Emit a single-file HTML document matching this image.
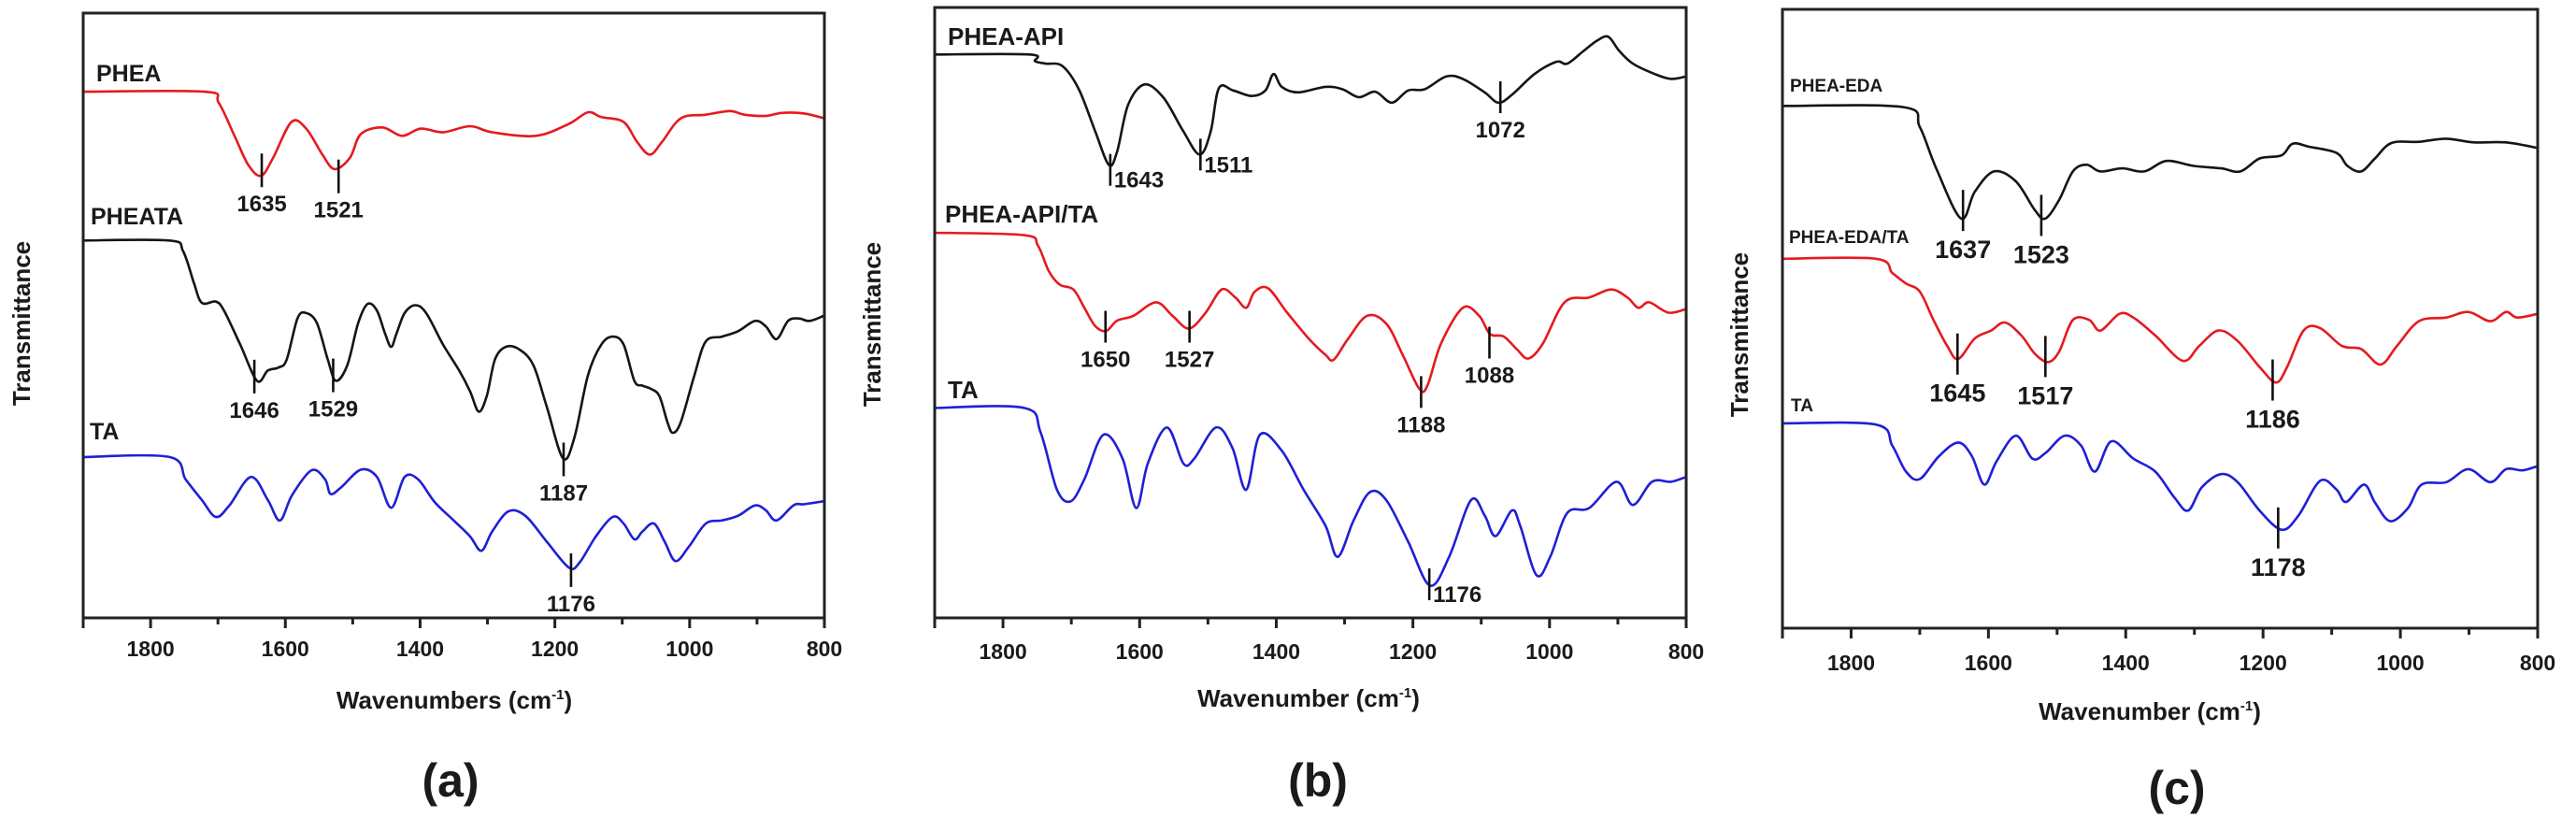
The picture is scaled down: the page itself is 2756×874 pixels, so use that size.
<!DOCTYPE html>
<html><head><meta charset="utf-8">
<style>
html,body{margin:0;padding:0;background:#fff;}
svg{display:block;}
text{font-family:"Liberation Sans",Arial,sans-serif;font-weight:bold;fill:#1a1a1a;}
</style></head>
<body>
<svg id="fig" width="2756" height="874" viewBox="0 0 2756 874" xmlns="http://www.w3.org/2000/svg"></svg>
<script>
// ---------- DATA ----------
// Panel (a)
const aPheaWn  = [1900,1720,1699,1675,1655,1636,1618,1591,1569,1545,1527,1504,1488,1456,1427,1399,1366,1326,1293,1228,1179,1151,1131,1098,1078,1059,1041,1013,976,940,919,887,863,830,800];
const aPheaVal = [87.0,87.0,85.2,79.6,74.9,73.1,76.1,82.0,80.9,76.6,74.2,76.1,80.0,81.1,79.7,80.9,80.3,81.3,80.3,79.7,81.7,83.6,82.8,82.0,78.7,76.6,78.7,82.6,83.2,83.8,83.2,83.0,83.5,83.4,82.6];
const aPheataWn  = [1900,1772,1752,1736,1724,1703,1691,1667,1642,1626,1610,1598,1582,1569,1553,1537,1525,1508,1492,1478,1464,1452,1443,1435,1423,1407,1391,1366,1342,1326,1313,1301,1289,1273,1253,1232,1212,1188,1171,1151,1131,1114,1098,1082,1070,1058,1045,1033,1025,1013,993,976,952,928,903,887,871,854,838,822,800];
const aPheataVal = [62.4,62.4,60.7,55.5,52.1,52.3,50.8,45.2,39.2,40.9,41.4,42.7,49.5,50.4,48.7,42.7,39.2,41.8,48.7,51.9,50.8,47.0,44.8,47.0,50.4,51.7,50.4,45.2,40.9,37.5,34.1,36.7,42.7,44.8,44.4,41.8,34.9,26.4,29.8,40.1,45.2,46.5,45.2,39.2,38.4,37.9,36.7,32.4,30.6,32.4,40.1,45.7,46.5,47.4,49.1,48.2,46.1,49.1,49.5,49.1,50.0];
const aTaWn  = [1900,1772,1748,1724,1703,1683,1651,1626,1608,1590,1561,1541,1533,1517,1488,1464,1443,1423,1403,1378,1350,1326,1309,1293,1269,1244,1212,1179,1163,1139,1114,1098,1082,1070,1053,1037,1021,1001,976,952,928,903,887,871,846,830,800];
const aTaVal = [26.6,26.6,22.9,19.5,16.7,18.6,23.3,19.5,16.1,20.3,24.4,22.9,20.5,21.6,24.5,23.3,18.2,23.3,22.9,19.1,16.1,13.5,11.1,14.3,17.6,16.9,12.6,8.3,9.2,13.5,16.7,15.6,13.0,14.3,15.6,12.6,9.4,11.8,15.6,16.1,16.9,18.6,17.8,16.1,18.6,18.8,19.3];
const aAnnWn  = [1635,1521,1646,1529,1187,1176];
const aAnnVal = [74.0,73.0,39.9,40.1,26.2,7.9];
const aAnnTxt = ["1635","1521","1646","1529","1187","1176"];

// Panel (b)
const bApiWn  = [1900,1761,1753,1737,1713,1689,1665,1645,1633,1617,1593,1565,1536,1512,1496,1484,1463,1436,1416,1404,1392,1368,1328,1303,1279,1255,1231,1207,1183,1151,1127,1095,1075,1055,1022,990,974,950,930,914,898,878,846,822,800];
const bApiVal = [92.3,92.3,91.2,90.8,90.4,86.6,79.7,74.2,76.4,84.0,87.4,85.2,79.7,75.9,79.7,86.8,86.4,85.5,86.4,89.1,87.0,86.1,87.0,86.6,85.3,86.2,84.4,86.4,86.6,88.7,88.3,86.1,84.4,85.7,89.1,91.1,90.8,92.9,94.6,95.2,92.9,90.8,89.1,88.3,88.7];
const bApiTaWn  = [1900,1769,1749,1733,1717,1697,1681,1665,1649,1633,1609,1576,1552,1528,1504,1480,1460,1444,1432,1412,1384,1352,1328,1316,1295,1267,1239,1215,1191,1179,1159,1127,1103,1087,1067,1047,1031,1010,978,942,910,886,870,854,826,800];
const bApiTaVal = [63.1,62.7,61.0,56.8,54.6,53.8,50.8,47.8,47.0,48.7,49.5,51.7,49.5,47.4,49.9,53.8,52.5,50.8,53.4,54.0,50.0,45.7,43.1,42.3,45.7,49.5,48.2,43.1,37.6,38.0,44.9,50.8,49.5,46.5,46.1,43.9,42.5,44.9,51.7,52.5,53.8,52.5,50.8,51.7,50.0,50.6];
const bTaWn  = [1900,1769,1745,1721,1701,1681,1653,1625,1605,1588,1560,1536,1520,1488,1464,1444,1424,1392,1360,1328,1310,1287,1263,1239,1207,1175,1147,1115,1095,1079,1055,1043,1019,999,974,942,902,878,850,822,800];
const bTaVal = [34.4,34.4,30.4,21.0,19.1,22.7,30.0,26.1,18.0,25.3,31.2,25.3,26.1,31.2,27.8,21.0,30.0,27.4,21.0,15.1,10.0,15.9,20.6,19.3,12.5,5.3,10.0,19.3,16.8,13.4,17.6,15.1,7.0,10.0,17.2,18.0,22.3,18.5,22.3,22.3,23.1];
const bAnnWn  = [1643,1511,1072,1650,1527,1188,1088,1176];
const bAnnVal = [73.4,75.9,85.3,47.7,47.7,37.0,45.1,5.5];
const bAnnTxt = ["1643","1511","1072","1650","1527","1188","1088","1176"];

// Panel (c)
const cEdaWn  = [1900,1724,1700,1676,1640,1620,1592,1560,1532,1517,1497,1477,1457,1437,1405,1373,1341,1301,1261,1233,1205,1173,1157,1133,1093,1077,1057,1037,1013,973,933,893,846,800];
const cEdaVal = [84.4,84.2,81.0,74.3,66.2,70.5,73.8,72.2,67.5,66.2,69.2,73.8,74.9,73.8,74.3,73.8,75.5,74.7,74.3,73.8,75.9,76.4,78.3,77.8,76.8,74.7,73.8,75.9,78.4,78.6,79.1,78.5,78.5,77.6];
const cEdaTaWn  = [1900,1764,1740,1720,1700,1680,1660,1644,1620,1596,1576,1552,1532,1513,1497,1477,1453,1437,1409,1389,1357,1317,1293,1265,1237,1205,1181,1165,1141,1117,1085,1057,1029,1005,973,933,901,869,846,830,800];
const cEdaTaVal = [59.7,59.7,57.4,55.7,54.4,49.8,45.6,43.5,46.8,48.1,49.4,47.3,44.3,43.0,44.7,49.8,49.8,48.1,50.8,50.2,47.3,43.2,45.6,48.1,46.4,42.2,39.7,42.2,48.1,48.5,45.6,45.1,42.6,45.6,49.6,50.2,51.1,49.6,51.1,50.2,50.8];
const cTaWn  = [1900,1764,1740,1720,1700,1672,1644,1624,1606,1588,1560,1536,1517,1489,1465,1445,1421,1389,1357,1329,1309,1289,1261,1237,1205,1173,1149,1117,1093,1079,1053,1037,1015,989,969,933,901,869,846,822,800];
const cTaVal = [33.1,32.9,29.5,25.3,24.1,27.8,30.0,27.8,23.2,27.0,31.1,27.4,28.3,31.1,29.5,25.3,30.2,27.4,25.3,21.1,19.0,22.8,24.9,23.6,19.0,15.9,18.1,23.8,22.4,20.4,23.2,20.3,17.3,19.4,23.2,23.6,25.7,23.6,25.7,25.5,26.2];
const cAnnWn  = [1637,1523,1645,1517,1186,1178];
const cAnnVal = [67.5,66.7,44.3,43.9,40.1,16.2];
const cAnnTxt = ["1637","1523","1645","1517","1186","1178"];

const xTicks = [1800,1600,1400,1200,1000,800];
const xMinor = [1700,1500,1300,1100,900];

// ---------- DRAWING ----------
const NS = "http://www.w3.org/2000/svg";
const svg = document.getElementById('fig');
const RED = "#e51a1f", BLUE = "#1f1fd6", BLACK = "#151515";

function mk(tag, parent, attrs){
  const e = document.createElementNS(NS, tag);
  for (const k in attrs) e.setAttribute(k, attrs[k]);
  parent.appendChild(e);
  return e;
}
function smoothPath(pts){
  let d = "M" + pts[0][0].toFixed(1) + "," + pts[0][1].toFixed(1);
  for (let i = 0; i < pts.length - 1; i++){
    const p0 = pts[Math.max(0,i-1)], p1 = pts[i], p2 = pts[i+1], p3 = pts[Math.min(pts.length-1,i+2)];
    const c1x = p1[0] + (p2[0]-p0[0])/6, c1y = p1[1] + (p2[1]-p0[1])/6;
    const c2x = p2[0] - (p3[0]-p1[0])/6, c2y = p2[1] - (p3[1]-p1[1])/6;
    d += " C" + c1x.toFixed(1)+","+c1y.toFixed(1)+" "+c2x.toFixed(1)+","+c2y.toFixed(1)+" "+p2[0].toFixed(1)+","+p2[1].toFixed(1);
  }
  return d;
}

function panel(cfg){
  const g = mk('g', svg, {});
  
  
  const L = cfg.left, R = cfg.right, T = cfg.top, B = cfg.bottom;
  const xs = wn => L + (1900 - wn) / 1100 * (R - L);
  const ys = v => B - v / 100 * (B - T);

  cfg.series.forEach(s => {
    const pts = s.wn.map((w, i) => [xs(w), ys(s.val[i])]);
    const p = mk('path', g, {d: smoothPath(pts), fill: 'none', stroke: s.color, 'stroke-width': 2.6, 'stroke-linejoin': 'round'});
    
    
    const t = mk('text', g, {x: s.lx, y: s.ly, 'font-size': cfg.seriesFont});
    t.textContent = s.label;
    
    
  });

  cfg.ann.wn.forEach((w, i) => {
    const x = xs(w), y = ys(cfg.ann.val[i]);
    const half = cfg.tickLen / 2;
    const ln = mk('line', g, {x1: x, y1: y - half, x2: x, y2: y + half, stroke: '#111', 'stroke-width': 2.6});
    
    
    const right = cfg.ann.right && cfg.ann.right.includes(cfg.ann.txt[i]);
    const t = mk('text', g, right
      ? {x: x + 4, y: y + half + 2, 'font-size': cfg.annFont}
      : {x: x, y: y + half + cfg.annFont + 2, 'font-size': cfg.annFont, 'text-anchor': 'middle'});
    t.textContent = cfg.ann.txt[i];
    
    
  });

  const fr = mk('rect', g, {x: L, y: T, width: R - L, height: B - T, fill: 'none', stroke: '#222', 'stroke-width': 3});
  
  

  [1900].concat(xTicks).forEach(v => {
    const x = xs(v);
    const tk = mk('line', g, {x1: x, y1: B, x2: x, y2: B + 11, stroke: '#222', 'stroke-width': 3});
    
    
  });
  xMinor.forEach(v => {
    const x = xs(v);
    const tk = mk('line', g, {x1: x, y1: B, x2: x, y2: B + 7, stroke: '#222', 'stroke-width': 3});
    
    
  });
  xTicks.forEach(v => {
    const t = mk('text', g, {x: xs(v), y: cfg.tickY, 'font-size': 23, 'text-anchor': 'middle'});
    t.textContent = v;
    
    
  });

  const xt = mk('text', g, {x: cfg.xTitleX, y: cfg.xTitleY, 'font-size': 26, 'text-anchor': 'middle'});
  xt.textContent = cfg.xTitle + ' (cm';
  const sup = mk('tspan', xt, {dy: -10, 'font-size': 15});
  sup.textContent = '-1';
  const cl = mk('tspan', xt, {dy: 10});
  cl.textContent = ')';
  
  

  const yt = mk('text', g, {x: 0, y: 0, 'font-size': 26, 'text-anchor': 'middle',
    transform: 'translate(' + cfg.yTitleX + ',' + cfg.yTitleY + ') rotate(-90)'});
  yt.textContent = 'Transmittance';
  
  

  const pl = mk('text', g, {x: cfg.capX, y: cfg.capY, 'font-size': 50, 'text-anchor': 'middle'});
  pl.textContent = '(' + cfg.id + ')';
  
  
}

panel({id:'a', left:89, right:882, top:14, bottom:661, tickY:702, xTitle:'Wavenumbers', xTitleX:486, xTitleY:758,
  yTitleX:32, yTitleY:346, capX:482, capY:852, seriesFont:25, annFont:24, tickLen:36,
  series:[
    {name:'phea-line', label:'PHEA', color:RED, wn:aPheaWn, val:aPheaVal, lx:103, ly:87},
    {name:'pheata-line', label:'PHEATA', color:BLACK, wn:aPheataWn, val:aPheataVal, lx:97, ly:240},
    {name:'ta-line', label:'TA', color:BLUE, wn:aTaWn, val:aTaVal, lx:96, ly:470}],
  ann:{wn:aAnnWn, val:aAnnVal, txt:aAnnTxt}});

panel({id:'b', left:1000, right:1804, top:8, bottom:661, tickY:705, xTitle:'Wavenumber', xTitleX:1400, xTitleY:756,
  yTitleX:942, yTitleY:347, capX:1410, capY:852, seriesFont:26, annFont:24, tickLen:34,
  series:[
    {name:'phea-api-line', label:'PHEA-API', color:BLACK, wn:bApiWn, val:bApiVal, lx:1014, ly:48},
    {name:'phea-api-ta-line', label:'PHEA-API/TA', color:RED, wn:bApiTaWn, val:bApiTaVal, lx:1011, ly:238},
    {name:'ta-line', label:'TA', color:BLUE, wn:bTaWn, val:bTaVal, lx:1014, ly:426}],
  ann:{wn:bAnnWn, val:bAnnVal, txt:bAnnTxt, right:["1643","1511","1176"]}});

panel({id:'c', left:1907, right:2715, top:10, bottom:672, tickY:717, xTitle:'Wavenumber', xTitleX:2300, xTitleY:770,
  yTitleX:1870, yTitleY:358, capX:2329, capY:860, seriesFont:19, annFont:27, tickLen:44,
  series:[
    {name:'phea-eda-line', label:'PHEA-EDA', color:BLACK, wn:cEdaWn, val:cEdaVal, lx:1915, ly:98},
    {name:'phea-eda-ta-line', label:'PHEA-EDA/TA', color:RED, wn:cEdaTaWn, val:cEdaTaVal, lx:1914, ly:260},
    {name:'ta-line', label:'TA', color:BLUE, wn:cTaWn, val:cTaVal, lx:1916, ly:440}],
  ann:{wn:cAnnWn, val:cAnnVal, txt:cAnnTxt}});
</script>
</body></html>
